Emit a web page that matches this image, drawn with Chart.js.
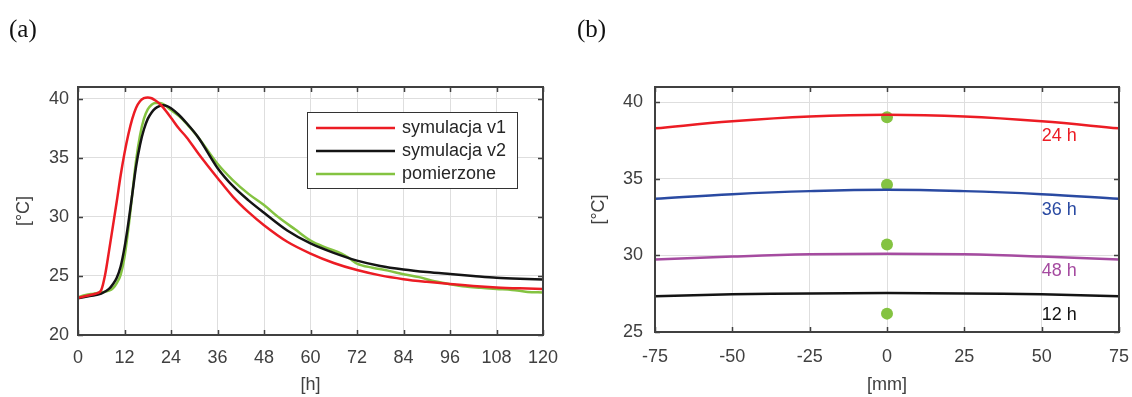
<!DOCTYPE html>
<html>
<head>
<meta charset="utf-8">
<script src="https://cdn.jsdelivr.net/npm/chart.js@4.4.0/dist/chart.umd.min.js"></script>
<style>
body{margin:0;background:#fff;width:1132px;height:397px;overflow:hidden;position:relative;font-family:"Liberation Sans",Arial,sans-serif}
.panel{position:absolute;top:0;width:566px;height:397px}
#wrapA{left:0}
#wrapB{left:566px}
.tag{position:absolute;top:14px;font-family:"Liberation Serif","Times New Roman",serif;font-size:25px;color:#111;line-height:30px}
</style>
</head>
<body>
<div class="panel" id="wrapA"><canvas id="chartA"></canvas></div>
<div class="panel" id="wrapB"><canvas id="chartB"></canvas></div>
<div class="tag" style="left:9px">(a)</div>
<div class="tag" style="left:577px">(b)</div>
<script>
// (a) temperatura w czasie
var hoursV1 = [0,2,4,5,6,7,8,9,10,11,12,13,14,15,16,17,18,19,20,21,22,24,26,28,31,36,40,44,48,54,60,66,72,78,84,90,96,102,108,114,120];
var tempV1  = [23.15,23.3,23.45,23.55,23.8,25.1,27.1,29.2,31.3,33.5,35.4,37.0,38.3,39.25,39.8,40.05,40.12,40.05,39.85,39.6,39.25,38.4,37.5,36.75,35.4,33.3,31.7,30.4,29.3,27.9,26.9,26.1,25.5,25.05,24.73,24.5,24.31,24.15,24.03,23.95,23.89];

var hoursV2 = [0,3,6,8,9,10,11,12,13,14,15,16,17,18,19,20,21,22,23,24,26,28,31,36,40,44,48,54,60,66,72,78,84,90,96,102,108,114,120];
var tempV2  = [23.1,23.3,23.5,23.9,24.3,24.85,25.8,27.4,29.5,31.9,34.3,36.1,37.4,38.3,38.85,39.2,39.38,39.45,39.38,39.2,38.65,37.95,36.75,34.15,32.6,31.4,30.35,28.85,27.75,26.95,26.3,25.85,25.55,25.33,25.16,25.0,24.85,24.76,24.7];

var hoursMeas = [0,2,4,6,8,9,10,11,12,13,14,15,16,17,18,19,20,21,22,24,26,28,31,36,40,44,48,52,56,60,64,68,70,72,76,80,84,88,92,96,100,104,108,112,116,120];
var tempMeas  = [23.2,23.4,23.5,23.6,23.75,23.95,24.4,25.1,26.6,29.0,31.9,34.8,36.9,38.3,39.1,39.5,39.65,39.65,39.55,39.05,38.55,37.9,36.75,34.5,33.1,31.95,31.0,29.9,28.95,28.0,27.4,26.9,26.5,26.05,25.7,25.45,25.15,24.9,24.55,24.3,24.1,24.0,23.9,23.82,23.65,23.6];

var seriesNamesA = ['symulacja v1','symulacja v2','pomierzone'];
var xTicksA = [0,12,24,36,48,60,72,84,96,108,120];
var yTicksA = [20,25,30,35,40];

// (b) rozklad temperatury na szerokosci
var posMm = [-75,-50,-25,0,25,50,75];
var prof24 = [38.3,38.76,39.07,39.18,39.07,38.76,38.3];
var prof36 = [33.7,34.0,34.2,34.29,34.2,34.0,33.7];
var prof48 = [29.74,29.93,30.07,30.11,30.07,29.93,29.74];
var prof12 = [27.33,27.46,27.52,27.54,27.52,27.46,27.33];
var measPos = [0,0,0,0];
var measB  = [39.02,34.61,30.72,26.2];
var labelText = ['24 h','36 h','48 h','12 h'];
var labelX = [50,50,50,50];
var labelY = [37.83,32.94,28.98,26.09];
var xTicksB = [-75,-50,-25,0,25,50,75];
var yTicksB = [25,30,35,40];

var RED = '#ec1c24', BLACK = '#141414', GREEN = '#84c341', BLUE = '#2a4aa2', PURPLE = '#a54ba0';
var AXIS = '#404040', GRID = '#dedede';

function pts(xs, ys) {
	var out = [];
	for (var i = 0; i < xs.length; i++) out.push({x: xs[i], y: ys[i]});
	return out;
}

// ramka z kreskami do srodka (jak w matlabie)
var boxTicks = {
	id: 'boxTicks',
	afterDatasetsDraw: function(chart) {
		var ctx = chart.ctx, a = chart.chartArea, sx = chart.scales.x, sy = chart.scales.y;
		ctx.save();
		ctx.strokeStyle = AXIS;
		ctx.lineWidth = 1.5;
		ctx.beginPath();
		sx.ticks.forEach(function(t) {
			var px = Math.round(sx.getPixelForValue(t.value)) + 0.5;
			ctx.moveTo(px, a.bottom); ctx.lineTo(px, a.bottom - 5);
			ctx.moveTo(px, a.top); ctx.lineTo(px, a.top + 5);
		});
		sy.ticks.forEach(function(t) {
			var py = Math.round(sy.getPixelForValue(t.value)) + 0.5;
			ctx.moveTo(a.left, py); ctx.lineTo(a.left + 5, py);
			ctx.moveTo(a.right, py); ctx.lineTo(a.right - 5, py);
		});
		ctx.stroke();
		ctx.lineWidth = 2;
		ctx.strokeRect(a.left, a.top, a.right - a.left, a.bottom - a.top);
		ctx.restore();
	}
};

var legendBox = {
	id: 'legendBox',
	afterDraw: function(chart) {
		var ctx = chart.ctx, a = chart.chartArea;
		var x0 = a.right - 236, y0 = a.top + 25, w = 210, h = 76;
		ctx.save();
		ctx.fillStyle = '#fff';
		ctx.fillRect(x0, y0, w, h);
		ctx.strokeStyle = '#333';
		ctx.lineWidth = 1;
		ctx.strokeRect(x0 + 0.5, y0 + 0.5, w, h);
		ctx.font = '18px "Liberation Sans", Arial, sans-serif';
		ctx.textBaseline = 'middle';
		chart.data.datasets.forEach(function(ds, i) {
			var yy = y0 + 16 + i * 23;
			ctx.strokeStyle = ds.borderColor;
			ctx.lineWidth = 2.5;
			ctx.beginPath(); ctx.moveTo(x0 + 9, yy); ctx.lineTo(x0 + 88, yy); ctx.stroke();
			ctx.fillStyle = '#262626';
			ctx.fillText(ds.label, x0 + 95, yy);
		});
		ctx.restore();
	}
};

var curveLabels = {
	id: 'curveLabels',
	afterDatasetsDraw: function(chart) {
		var ctx = chart.ctx, sx = chart.scales.x, sy = chart.scales.y;
		var cols = [RED, BLUE, PURPLE, BLACK];
		ctx.save();
		ctx.font = '18px "Liberation Sans", Arial, sans-serif';
		ctx.textBaseline = 'middle';
		ctx.textAlign = 'left';
		for (var i = 0; i < labelText.length; i++) {
			ctx.fillStyle = cols[i];
			ctx.fillText(labelText[i], sx.getPixelForValue(labelX[i]), sy.getPixelForValue(labelY[i]));
		}
		ctx.restore();
	}
};

function axisOpts(ticksArr, min, max, title, isY, tickPad, titlePad, fixSize) {
	return {
		type: 'linear',
		min: min, max: max,
		afterBuildTicks: function(scale) {
			scale.ticks = ticksArr.map(function(v) { return {value: v}; });
		},
		afterFit: function(scale) {
			if (isY) {
				scale.width = fixSize;
			} else {
				scale.height = fixSize;
				scale.paddingLeft = 0;
				scale.paddingRight = 0;
			}
		},
		grid: {color: GRID, lineWidth: 1, drawTicks: false},
		border: {display: false},
		ticks: {color: AXIS, padding: tickPad, font: {size: 18, family: '"Liberation Sans", Arial, sans-serif'}},
		title: {display: true, text: title, color: AXIS, padding: titlePad,
			font: {size: 18, family: '"Liberation Sans", Arial, sans-serif', lineHeight: 1.2}}
	};
}

Chart.defaults.font.family = '"Liberation Sans", Arial, sans-serif';

function DrawChartA() {
	var ctx = document.getElementById('chartA').getContext('2d');
	new Chart(ctx, {
		type: 'line',
		data: {
			datasets: [
				{label: seriesNamesA[0], data: pts(hoursV1, tempV1), borderColor: RED, borderWidth: 2.5, pointRadius: 0, cubicInterpolationMode: 'monotone'},
				{label: seriesNamesA[1], data: pts(hoursV2, tempV2), borderColor: BLACK, borderWidth: 2.5, pointRadius: 0, cubicInterpolationMode: 'monotone'},
				{label: seriesNamesA[2], data: pts(hoursMeas, tempMeas), borderColor: GREEN, borderWidth: 2.5, pointRadius: 0, cubicInterpolationMode: 'monotone'}
			]
		},
		options: {
			responsive: true,
			maintainAspectRatio: false,
			animation: false,
			layout: {padding: {top: 87, right: 23, bottom: 0, left: 0}},
			plugins: {legend: {display: false}, tooltip: {enabled: false}},
			scales: {
				x: axisOpts(xTicksA, 0, 120, '[h]', false, 12, {top: 0, bottom: 1}, 62),
				y: axisOpts(yTicksA, 20, 41, '[\u00B0C]', true, 9, {top: 13, bottom: 0}, 78)
			}
		},
		plugins: [boxTicks, legendBox]
	});
}

function DrawChartB() {
	var ctx = document.getElementById('chartB').getContext('2d');
	var line = function(lbl, ys, col) {
		return {label: lbl, data: pts(posMm, ys), borderColor: col, borderWidth: 2.5, pointRadius: 0, tension: 0.4};
	};
	new Chart(ctx, {
		type: 'line',
		data: {
			datasets: [
				line('24 h', prof24, RED),
				line('36 h', prof36, BLUE),
				line('48 h', prof48, PURPLE),
				line('12 h', prof12, BLACK),
				{label: 'pomiar', data: pts(measPos, measB), showLine: false, pointRadius: 6, pointBorderWidth: 0,
					pointBackgroundColor: GREEN, borderColor: GREEN}
			]
		},
		options: {
			responsive: true,
			maintainAspectRatio: false,
			animation: false,
			layout: {padding: {top: 87, right: 13, bottom: 0, left: 0}},
			plugins: {legend: {display: false}, tooltip: {enabled: false}},
			scales: {
				x: axisOpts(xTicksB, -75, 75, '[mm]', false, 14, {top: 0, bottom: 1}, 65),
				y: axisOpts(yTicksB, 25, 41, '[\u00B0C]', true, 12, {top: 22, bottom: 0}, 89)
			}
		},
		plugins: [boxTicks, curveLabels]
	});
}

DrawChartA();
DrawChartB();
</script>
</body>
</html>
